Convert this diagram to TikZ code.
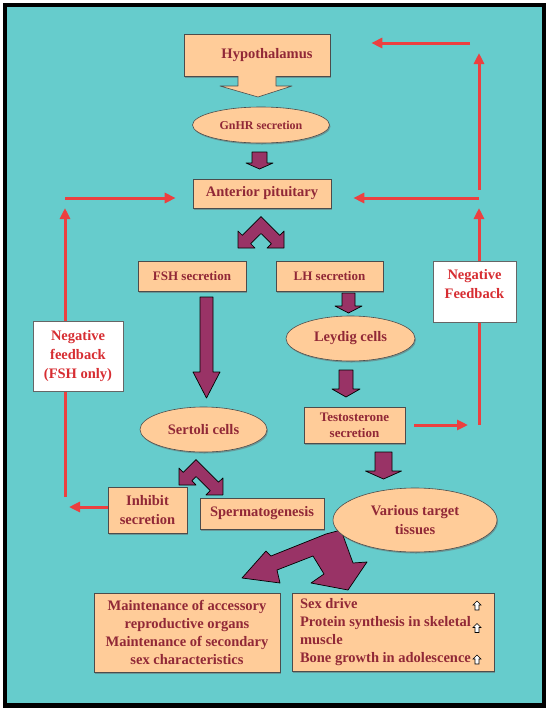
\documentclass[tikz,border=0pt]{standalone}
\usepackage{fontspec}
\setmainfont{Liberation Serif}
\usepackage{tikz}
\usetikzlibrary{calc,shapes.geometric,arrows.meta,shadows}
\definecolor{seateal}{RGB}{102,204,204}
\definecolor{peach}{RGB}{255,204,153}
\definecolor{plum}{RGB}{153,51,102}
\definecolor{maroon}{RGB}{145,40,55}
\definecolor{fbred}{RGB}{236,64,64}
\definecolor{fbtext}{RGB}{215,45,50}

\begin{document}
\begin{tikzpicture}[x=1pt,y=-1pt,font=\bfseries\fontsize{14.5}{18}\selectfont]
\tikzstyle{box}=[rectangle,draw=black!70,line width=.6pt,fill=peach,text=maroon,inner sep=0pt,align=center,drop shadow={shadow xshift=1pt,shadow yshift=-1.5pt,fill=black!60,opacity=.5}]
\tikzstyle{oval}=[box,ellipse]
\tikzstyle{fb box}=[rectangle,draw=black!60,line width=.6pt,fill=white,text=fbtext,inner sep=0pt,align=center,font=\bfseries\fontsize{14.5}{19}\selectfont]
\tikzstyle{block}=[fill=plum,draw=black,line width=.7pt,line join=round]
\tikzstyle{fb}=[draw=fbred,line width=3pt,-{Triangle[length=11pt,width=10pt]}]
\tikzstyle{up mark}=[fill=white,draw=black,line width=.6pt]

\useasboundingbox (0,0) rectangle (549,713);
% frame
\draw[line width=4.5pt,fill=seateal] (5.2,5.2) rectangle (543.8,705.6);

% straight block arrows
\foreach \cx/\ya/\yb/\yc/\sw/\hw in {259.5/152/163/169/7.5/13.5, 206.5/297/372/398/6.5/13.5, 348.5/293/306/313/6.5/13.5, 346/370/389/397/7/14, 383.5/452/471/479/8.5/18}
  \draw[block] (\cx-\sw,\ya) -- (\cx+\sw,\ya) -- (\cx+\sw,\yb) -- (\cx+\hw,\yb) -- (\cx,\yc) -- (\cx-\hw,\yb) -- (\cx-\sw,\yb) -- cycle;
% split below anterior pituitary
\draw[block] (261,216.5) -- (279.7,235.3) -- (284,231) -- (284,248) -- (267,248) -- (271.3,243.7) -- (261,233.5)
  -- (250.7,243.7) -- (255,248) -- (238,248) -- (238,231) -- (242.3,235.3) -- cycle;
% split below Sertoli cells
\draw[block] (196,459.5) -- (218.6,482.1) -- (222.9,477.9) -- (222.9,494.9) -- (205.9,494.9) -- (210.2,490.6) -- (196,476.5)
  -- (191.8,480.7) -- (196,485) -- (179,485) -- (179,468) -- (183.3,472.3) -- cycle;
% split below target tissues
\draw[block] (326,534) -- (341,530) -- (353,563) -- (367,562) -- (348,590) -- (311,583) -- (324,574) -- (313,556)
  -- (277,570) -- (280,583) -- (242,578) -- (266,551) -- (271,556) -- cycle;

\node[box,minimum width=146pt,minimum height=42pt] (hyp) at (257,55) {\hspace*{20pt}Hypothalamus};
\node[oval,minimum width=137pt,minimum height=36pt,font=\bfseries\fontsize{12}{14}\selectfont] (gnrh) at (261,125) {GnHR secretion};
\node[box,minimum width=138pt,minimum height=29pt] (ant) at (262,193.5) {Anterior pituitary};
\node[box,minimum width=108pt,minimum height=30pt,font=\bfseries\fontsize{13}{15}\selectfont] (fsh) at (192,276) {FSH secretion};
\node[box,minimum width=107pt,minimum height=30pt,font=\bfseries\fontsize{13}{15}\selectfont] (lh) at (329.5,276) {LH secretion};
\node[oval,minimum width=129pt,minimum height=45pt] (leydig) at (350.5,338.5) {Leydig cells};
\node[oval,minimum width=127pt,minimum height=45pt] (sertoli) at (203.5,429.5) {Sertoli cells};
\node[box,minimum width=101pt,minimum height=36pt,font=\bfseries\fontsize{13}{16}\selectfont] (testo) at (354.5,425) {Testosterone\\secretion};
\node[box,minimum width=79pt,minimum height=46pt,font=\bfseries\fontsize{14.5}{19}\selectfont] (inhibit) at (147.5,510) {Inhibit\\secretion};
\node[box,minimum width=124pt,minimum height=31pt] (sperm) at (262,513.5) {Spermatogenesis};
\node[oval,minimum width=164pt,minimum height=64pt,font=\bfseries\fontsize{14.5}{19}\selectfont] (various) at (415,520) {Various target\\tissues};
\node[box,minimum width=186pt,minimum height=79pt] (maint) at (187,632.5) {Maintenance of accessory\\reproductive organs\\Maintenance of secondary\\sex characteristics};
\node[box,align=flush left,text width=186pt,inner xsep=8pt,minimum height=78pt] (effects) at (393,632) {Sex drive\\Protein synthesis in skeletal\\muscle\\Bone growth in adolescence};

% up marks in effects box
\foreach \y in {605.5,628,659.5}
  \draw[up mark] (477,\y-4.5) -- (481,\y-0.5) -- (479,\y-0.5) -- (479,\y+4.5) -- (475,\y+4.5) -- (475,\y-0.5) -- (473,\y-0.5) -- cycle;

% hypothalamus arrow
\fill[peach] (238,74) -- (238,86) -- (220,86) -- (258,97) -- (292,86) -- (276,86) -- (276,74) -- cycle;
\draw[black!70,line width=.6pt,line join=round] (238,76) -- (238,86) -- (220,86) -- (258,97) -- (292,86) -- (276,86) -- (276,76);

% feedback loops
\coordinate (rb) at (479,425);
\coordinate (rm) at (479,198);
\coordinate (rt) at (479,43);
\coordinate (lb) at (65,507);
\coordinate (lm) at (65,198);
\draw[fb,shorten >=11pt] ([xshift=9pt]testo.east) -- (rb);
\draw[fb,shorten >=10pt] (rb) -- (rm);
\draw[fb,shorten >=22pt] (rm) -- (ant.east |- rm);
\draw[fb,shorten <=8pt,shorten >=10pt] (rm) -- (rt);
\draw[fb,shorten <=9pt,shorten >=41pt] (rt) -- (hyp.east |- rt);
\draw[fb,shorten <=10pt,shorten >=10pt] (lb) -- (lm);
\draw[fb,shorten >=17pt] (lm) -- (ant.west |- lm);
\draw[fb,shorten >=4pt] (inhibit.west |- lb) -- (lb);

\node[fb box,minimum width=90pt,minimum height=70pt] (fbfsh) at (78,356) {Negative\\feedback\\(FSH only)};
\node[fb box,minimum width=83pt,minimum height=61pt] (fblh) at (474.5,291.5) {Negative\\Feedback\\[-3pt]\mbox{}};

\end{tikzpicture}
\end{document}
